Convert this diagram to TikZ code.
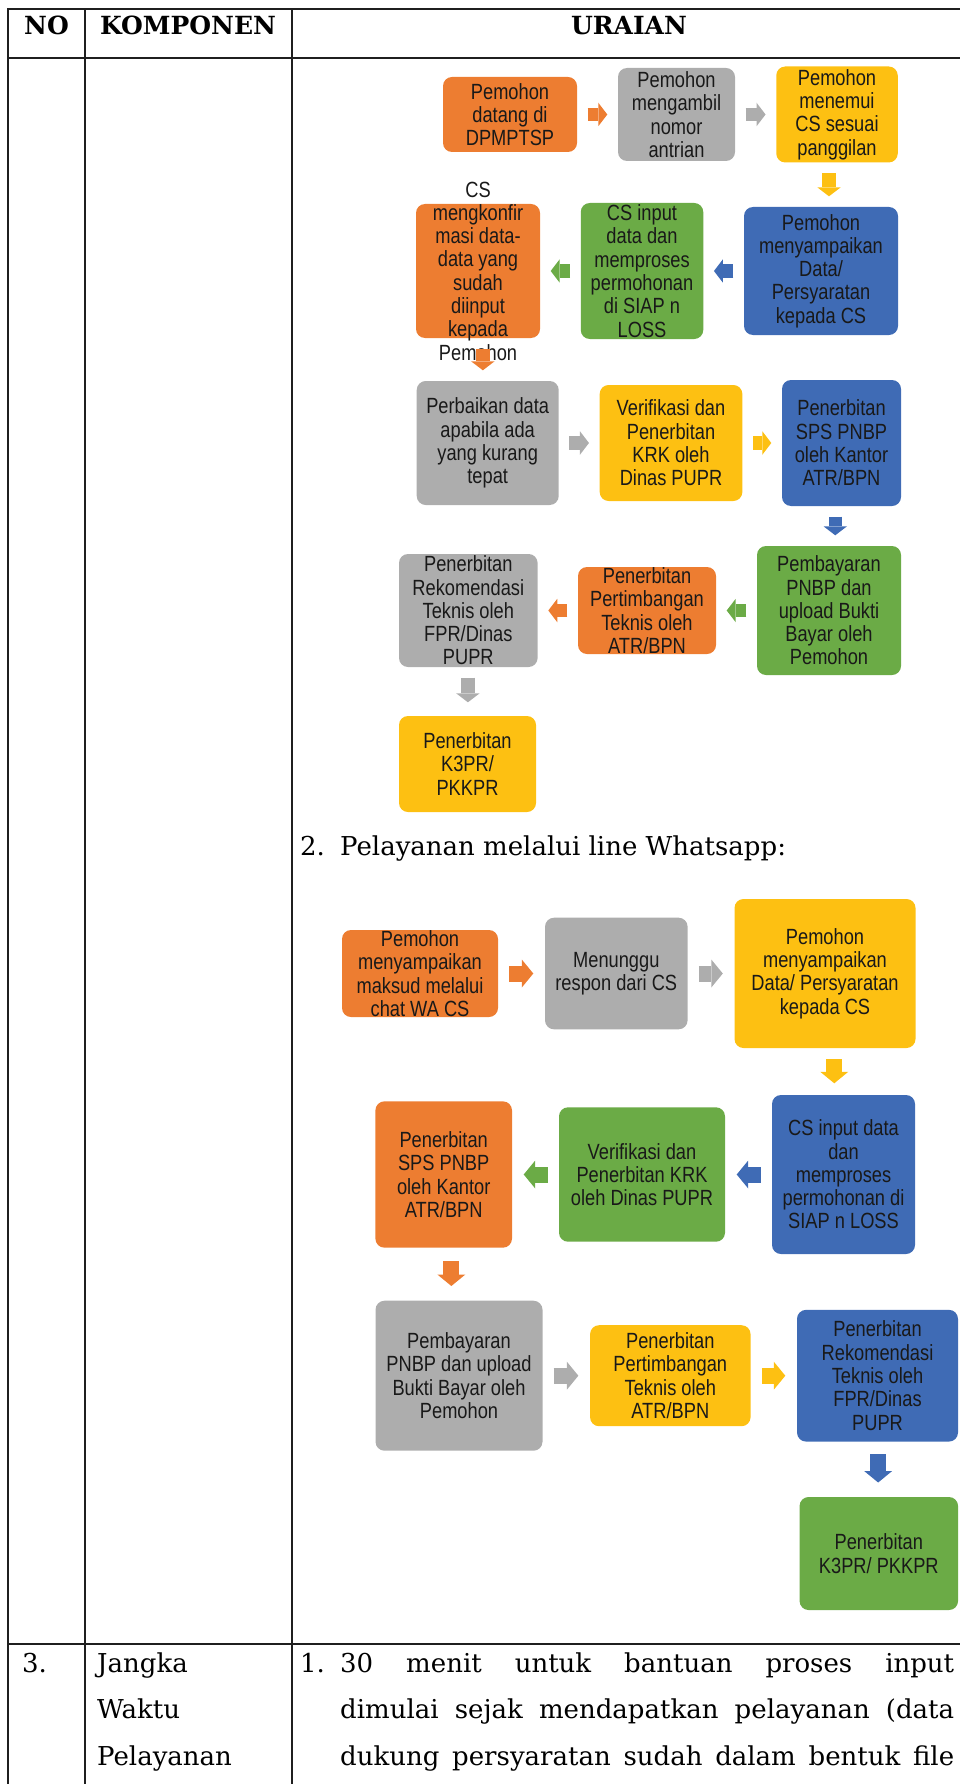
\documentclass[tikz,border=0pt]{standalone}
\usepackage{fontspec}
\setmainfont{DejaVu Serif}
\newfontfamily\boxfont[FakeStretch=0.83]{Liberation Sans}
\usetikzlibrary{arrows.meta,calc,positioning}
\definecolor{sorange}{HTML}{ED7D31}
\definecolor{sgray}{HTML}{ADADAD}
\definecolor{sgold}{HTML}{FDC012}
\definecolor{sblue}{HTML}{3F6BB5}
\definecolor{sgreen}{HTML}{6BAB46}
\tikzset{
    box/.style 2 args = {rectangle, rounded corners=9pt, minimum width=#1, minimum height=#2, inner sep=0pt, align=center, text=black!90, font=\boxfont\fontsize{22}{23.3}\selectfont},
    boxtext/.style = {inner sep=0pt, align=center, text=black!90, font=\boxfont\fontsize{22}{23.3}\selectfont},
    flow/.style = {line width=13.5pt, shorten <=10.5pt, shorten >=10.5pt, -{Triangle[line width=0pt, length=9pt, width=23.5pt]}},
    flowbig/.style = {line width=16pt, shorten <=11pt, shorten >=11.5pt, -{Triangle[line width=0pt, length=11.5pt, width=28pt]}},
    head/.style = {inner sep=0pt, font=\fontsize{25}{30}\selectfont\bfseries},
    body/.style = {inner sep=0pt, font=\fontsize{26}{46.5}\selectfont},
    rule/.style = {line width=2.5pt, draw=black!88, line cap=rect}
}

\begin{document}
\begin{tikzpicture}[x=1pt, y=-1pt]
    \useasboundingbox (0,0) rectangle (960,1784);

    % table
    \draw [rule] (8,9) -- (960,9);
    \draw [rule] (8,58) -- (960,58);
    \draw [rule] (8,1644) -- (960,1644);
    \draw [rule] (8,9) -- (8,1784);
    \draw [rule] (85,9) -- (85,1784);
    \draw [rule] (292,9) -- (292,1784);

    \node [head, anchor=base]   (h_no)      at (46.5,35)  {NO};
    \node [head, anchor=base]   (h_komp)    at (188,35)   {KOMPONEN};
    \node [head, anchor=base]   (h_urai)    at (629,35)   {URAIAN};

    % layanan di kantor
    \node [box={134pt}{75pt}, fill=sorange]     (s1_come)       at (510,114.5)  {Pemohon\\datang di\\DPMPTSP};
    \node [box={117pt}{93pt}, fill=sgray]       (s1_queue)      at (676.5,114.5) {Pemohon\\mengambil\\nomor\\antrian};
    \node [box={121.5pt}{96pt}, fill=sgold]     (s1_meet)       at (837,114.5)  {Pemohon\\menemui\\CS sesuai\\panggilan};
    \node [box={154pt}{128pt}, fill=sblue]      (s1_submit)     at (821,271)    {Pemohon\\menyampaikan\\Data/\\Persyaratan\\kepada CS};
    \node [box={122.5pt}{136pt}, fill=sgreen]   (s1_input)      at (642,271)    {CS input\\data dan\\memproses\\permohonan\\di SIAP n\\LOSS};
    \node [box={124pt}{134pt}, fill=sorange]    (s1_confirm)    at (478,271)    {};
    \node [boxtext]                             (s1_confirm_t)  at (s1_confirm) {CS\\mengkonfir\\masi data-\\data yang\\sudah\\diinput\\kepada\\Pemohon};
    \node [box={142pt}{124pt}, fill=sgray]      (s1_fix)        at (487.7,443)  {Perbaikan data\\apabila ada\\yang kurang\\tepat};
    \node [box={142.7pt}{116pt}, fill=sgold]    (s1_krk)        at (671,443)    {Verifikasi dan\\Penerbitan\\KRK oleh\\Dinas PUPR};
    \node [box={119pt}{126pt}, fill=sblue]      (s1_sps)        at (841.5,443)  {Penerbitan\\SPS PNBP\\oleh Kantor\\ATR/BPN};
    \node [box={144pt}{129pt}, fill=sgreen]     (s1_pay)        at (829,610.5)  {Pembayaran\\PNBP dan\\upload Bukti\\Bayar oleh\\Pemohon};
    \node [box={138pt}{87pt}, fill=sorange]     (s1_pert)       at (647,610.5)  {Penerbitan\\Pertimbangan\\Teknis oleh\\ATR/BPN};
    \node [box={138.6pt}{113pt}, fill=sgray]    (s1_rek)        at (468.3,610.5) {Penerbitan\\Rekomendasi\\Teknis oleh\\FPR/Dinas\\PUPR};
    \node [box={137pt}{96pt}, fill=sgold]       (s1_k3pr)       at (467.5,764)  {Penerbitan\\K3PR/\\PKKPR};

    \coordinate (d1_a) at ($(s1_meet.south)!.5!(s1_submit.north)$);
    \coordinate (d1_b) at ($(s1_confirm.south)!.5!(s1_fix.north)$);
    \coordinate (d1_c) at ($(s1_sps.south)!.5!(s1_pay.north)$);
    \coordinate (d1_d) at ($(s1_rek.south)!.5!(s1_k3pr.north)$);

    \draw [flow, sorange] (s1_come) -- (s1_queue);
    \draw [flow, sgray] (s1_queue) -- (s1_meet);
    \draw [flow, sgold] (d1_a |- s1_meet.south) -- (d1_a |- s1_submit.north);
    \draw [flow, sblue] (s1_submit) -- (s1_input);
    \draw [flow, sgreen] (s1_input) -- (s1_confirm);
    \draw [flow, sorange] (d1_b |- s1_confirm.south) -- (d1_b |- s1_fix.north);
    \draw [flow, sgray] (s1_fix) -- (s1_krk);
    \draw [flow, sgold] (s1_krk) -- (s1_sps);
    \draw [flow, sblue] (d1_c |- s1_sps.south) -- (d1_c |- s1_pay.north);
    \draw [flow, sgreen] (s1_pay) -- (s1_pert);
    \draw [flow, sorange] (s1_pert) -- (s1_rek);
    \draw [flow, sgray, shorten >=13.5pt] (d1_d |- s1_rek.south) -- (d1_d |- s1_k3pr.north);

    \node [body, anchor=base west] (wa_title) at (300,855) {\makebox[40pt][l]{2.}Pelayanan melalui line Whatsapp:};

    % layanan whatsapp
    \node [box={156pt}{87pt}, fill=sorange]     (s2_chat)       at (420,973.5)  {Pemohon\\menyampaikan\\maksud melalui\\chat WA CS};
    \node [box={142.6pt}{111.6pt}, fill=sgray]  (s2_wait)       at (616.3,973.5) {Menunggu\\respon dari CS};
    \node [box={181pt}{149pt}, fill=sgold]      (s2_submit)     at (825,973.5)  {Pemohon\\menyampaikan\\Data/ Persyaratan\\kepada CS};
    \node [box={143pt}{159pt}, fill=sblue]      (s2_input)      at (843.5,1174.5) {CS input data\\dan\\memproses\\permohonan di\\SIAP n LOSS};
    \node [box={166pt}{134.4pt}, fill=sgreen]   (s2_krk)        at (642,1174.5) {Verifikasi dan\\Penerbitan KRK\\oleh Dinas PUPR};
    \node [box={136.6pt}{146.3pt}, fill=sorange] (s2_sps)       at (443.7,1174.5) {Penerbitan\\SPS PNBP\\oleh Kantor\\ATR/BPN};
    \node [box={167pt}{150pt}, fill=sgray]      (s2_pay)        at (459,1375.7) {Pembayaran\\PNBP dan upload\\Bukti Bayar oleh\\Pemohon};
    \node [box={160.5pt}{101pt}, fill=sgold]    (s2_pert)       at (670.3,1375.7) {Penerbitan\\Pertimbangan\\Teknis oleh\\ATR/BPN};
    \node [box={161pt}{131.7pt}, fill=sblue]    (s2_rek)        at (877.5,1375.7) {Penerbitan\\Rekomendasi\\Teknis oleh\\FPR/Dinas\\PUPR};
    \node [box={158.5pt}{113pt}, fill=sgreen]   (s2_k3pr)       at (878.8,1553.5) {Penerbitan\\K3PR/ PKKPR};

    \coordinate (d2_a) at ($(s2_submit.south)!.5!(s2_input.north)$);
    \coordinate (d2_b) at ($(s2_sps.south)!.5!(s2_pay.north)$);
    \coordinate (d2_c) at ($(s2_rek.south)!.5!(s2_k3pr.north)$);

    \draw [flowbig, sorange] (s2_chat) -- (s2_wait);
    \draw [flowbig, sgray] (s2_wait) -- (s2_submit);
    \draw [flowbig, sgold] (d2_a |- s2_submit.south) -- (d2_a |- s2_input.north);
    \draw [flowbig, sblue] (s2_input) -- (s2_krk);
    \draw [flowbig, sgreen] (s2_krk) -- (s2_sps);
    \draw [flowbig, sorange, shorten <=13pt, shorten >=14.5pt] (d2_b |- s2_sps.south) -- (d2_b |- s2_pay.north);
    \draw [flowbig, sgray] (s2_pay) -- (s2_pert);
    \draw [flowbig, sgold] (s2_pert) -- (s2_rek);
    \draw [flowbig, sblue, shorten <=12.3pt, shorten >=14.3pt] (d2_c |- s2_rek.south) -- (d2_c |- s2_k3pr.north);

    % jangka waktu
    \node [body, anchor=base west] (r3_no)   at (22,1672)  {3.};
    \node [body, anchor=base west] (r3_komp) at (97,1672)  {\parbox[t]{180pt}{Jangka\\Waktu\\Pelayanan}};
    \node [body, anchor=base west] (r3_time) at (300,1672) {\parbox[t]{655pt}{\makebox[40pt][l]{1.}\makebox[614pt][s]{30 menit untuk bantuan proses input}\\
        \hspace*{40pt}\makebox[614pt][s]{dimulai sejak mendapatkan pelayanan (data}\\
        \hspace*{40pt}\makebox[614pt][s]{dukung persyaratan sudah dalam bentuk file}}};
\end{tikzpicture}
\end{document}
